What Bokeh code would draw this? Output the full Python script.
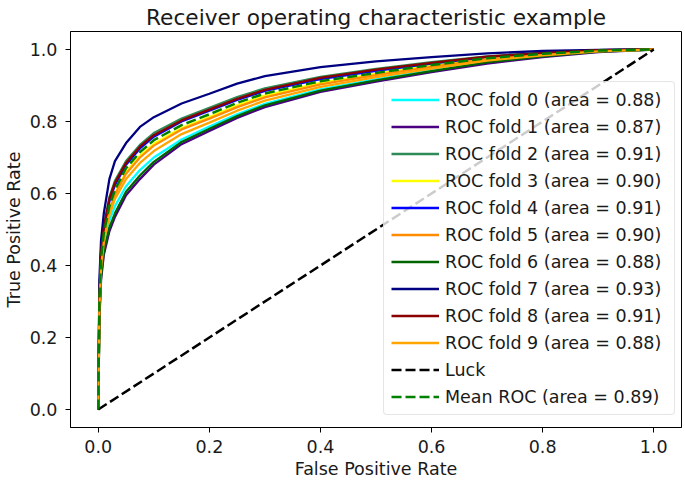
from bokeh.plotting import figure
from bokeh.models import FixedTicker, PrintfTickFormatter, Range1d
from bokeh.embed import file_html
from bokeh.resources import INLINE

# ---- data ----
fpr = [0.0, 0.002, 0.005, 0.01, 0.02, 0.03, 0.05, 0.075, 0.1, 0.15, 0.2,
       0.25, 0.3, 0.4, 0.5, 0.6, 0.7, 0.8, 0.9, 1.0]

tpr_fold0 = [0, 0.27, 0.385, 0.455, 0.525, 0.565, 0.62, 0.665, 0.700, 0.750, 0.786, 0.820, 0.849, 0.889, 0.917, 0.943, 0.966, 0.982, 0.995, 1.0]
tpr_fold1 = [0, 0.25, 0.360, 0.430, 0.495, 0.535, 0.595, 0.640, 0.680, 0.737, 0.774, 0.810, 0.840, 0.882, 0.911, 0.937, 0.961, 0.979, 0.993, 1.0]
tpr_fold2 = [0, 0.32, 0.440, 0.510, 0.590, 0.635, 0.690, 0.735, 0.768, 0.808, 0.838, 0.868, 0.892, 0.924, 0.946, 0.965, 0.981, 0.991, 0.998, 1.0]
tpr_fold3 = [0, 0.29, 0.410, 0.480, 0.555, 0.600, 0.660, 0.705, 0.738, 0.782, 0.812, 0.845, 0.872, 0.907, 0.932, 0.955, 0.975, 0.987, 0.997, 1.0]
tpr_fold4 = [0, 0.31, 0.430, 0.500, 0.578, 0.624, 0.680, 0.725, 0.758, 0.800, 0.830, 0.860, 0.885, 0.918, 0.941, 0.961, 0.979, 0.990, 0.998, 1.0]
tpr_fold5 = [0, 0.29, 0.405, 0.475, 0.550, 0.597, 0.655, 0.700, 0.733, 0.778, 0.808, 0.840, 0.867, 0.903, 0.929, 0.952, 0.973, 0.986, 0.996, 1.0]
tpr_fold6 = [0, 0.26, 0.370, 0.440, 0.505, 0.545, 0.605, 0.650, 0.688, 0.743, 0.780, 0.815, 0.845, 0.886, 0.914, 0.940, 0.964, 0.981, 0.994, 1.0]
tpr_fold7 = [0, 0.36, 0.470, 0.545, 0.640, 0.690, 0.740, 0.785, 0.812, 0.850, 0.877, 0.905, 0.926, 0.951, 0.967, 0.979, 0.989, 0.996, 0.999, 1.0]
tpr_fold8 = [0, 0.31, 0.435, 0.505, 0.585, 0.630, 0.685, 0.730, 0.762, 0.803, 0.833, 0.863, 0.888, 0.921, 0.944, 0.963, 0.980, 0.990, 0.998, 1.0]
tpr_fold9 = [0, 0.28, 0.395, 0.465, 0.540, 0.585, 0.640, 0.685, 0.718, 0.765, 0.797, 0.830, 0.858, 0.896, 0.923, 0.947, 0.969, 0.984, 0.995, 1.0]
tpr_mean = [0, 0.30, 0.420, 0.490, 0.565, 0.610, 0.670, 0.715, 0.748, 0.790, 0.820, 0.852, 0.878, 0.912, 0.935, 0.957, 0.976, 0.988, 0.997, 1.0]

fold_tprs = [tpr_fold0, tpr_fold1, tpr_fold2, tpr_fold3, tpr_fold4,
             tpr_fold5, tpr_fold6, tpr_fold7, tpr_fold8, tpr_fold9]
fold_aucs = [0.88, 0.87, 0.91, 0.90, 0.91, 0.90, 0.88, 0.93, 0.91, 0.88]
fold_colors = ["#00FFFF", "#4B0082", "#2E8B57", "#FFFF00", "#0000FF",
               "#FF8C00", "#006400", "#000080", "#8B0000", "#FFA500"]
mean_auc = 0.89
luck_x = [0, 1]
luck_y = [0, 1]
ticks = [0.0, 0.2, 0.4, 0.6, 0.8, 1.0]

FONT = "DejaVu Sans"
TXT = "#1a1a1a"

p = figure(frame_width=611, frame_height=396, output_backend="svg",
           toolbar_location=None,
           x_range=Range1d(-0.05, 1.05), y_range=Range1d(-0.05, 1.05),
           min_border_left=62, min_border_right=2, min_border_top=23,
           min_border_bottom=10)

for i in range(10):
    p.line(fpr, fold_tprs[i], line_color=fold_colors[i], line_width=2.3,
           legend_label="ROC fold %d (area = %.2f)" % (i, fold_aucs[i]))

p.line(luck_x, luck_y, line_color="black", line_width=2.5, line_dash="10 4",
       legend_label="Luck")
p.line(fpr, tpr_mean, line_color="#008000", line_width=2.5, line_dash="10 4",
       legend_label="Mean ROC (area = %.2f)" % mean_auc)

# title
p.title.text = "Receiver operating characteristic example"
p.title.align = "center"
p.title.text_font = FONT
p.title.text_font_size = "21.7px"
p.title.text_font_style = "normal"
p.title.text_color = TXT
p.title.standoff = 4

# axes
for ax in (p.xaxis[0], p.yaxis[0]):
    ax.ticker = FixedTicker(ticks=ticks)
    ax.formatter = PrintfTickFormatter(format="%.1f")
    ax.major_label_text_font = FONT
    ax.major_label_text_font_size = "17.5px"
    ax.major_label_text_color = TXT
    ax.axis_label_text_font = FONT
    ax.axis_label_text_font_size = "17.5px"
    ax.axis_label_text_font_style = "normal"
    ax.axis_label_text_color = TXT
    ax.major_tick_in = 0
    ax.major_tick_out = 5
    ax.minor_tick_line_color = None
    ax.major_tick_line_color = "black"
    ax.axis_line_color = "black"
    ax.axis_label_standoff = 3

p.xaxis.axis_label = "False Positive Rate"
p.yaxis.axis_label = "True Positive Rate"
p.xaxis.major_label_standoff = 7
p.yaxis.major_label_standoff = 8

p.xgrid.grid_line_color = None
p.ygrid.grid_line_color = None
p.outline_line_color = "black"
p.outline_line_width = 1
p.outline_line_alpha = 1.0

# legend
lg = p.legend[0]
lg.location = (313, 12)
lg.padding = 7
lg.spacing = 6
lg.label_height = 21
lg.glyph_height = 21
lg.glyph_width = 48
lg.label_standoff = 6
lg.label_width = 222
lg.label_text_font = FONT
lg.label_text_font_size = "17.5px"
lg.label_text_color = TXT
lg.border_line_color = "#cccccc"
lg.border_line_width = 1
lg.background_fill_alpha = 0.8
try:
    lg.border_radius = 4
except Exception:
    pass

open("out.html", "w").write(file_html(p, INLINE))
